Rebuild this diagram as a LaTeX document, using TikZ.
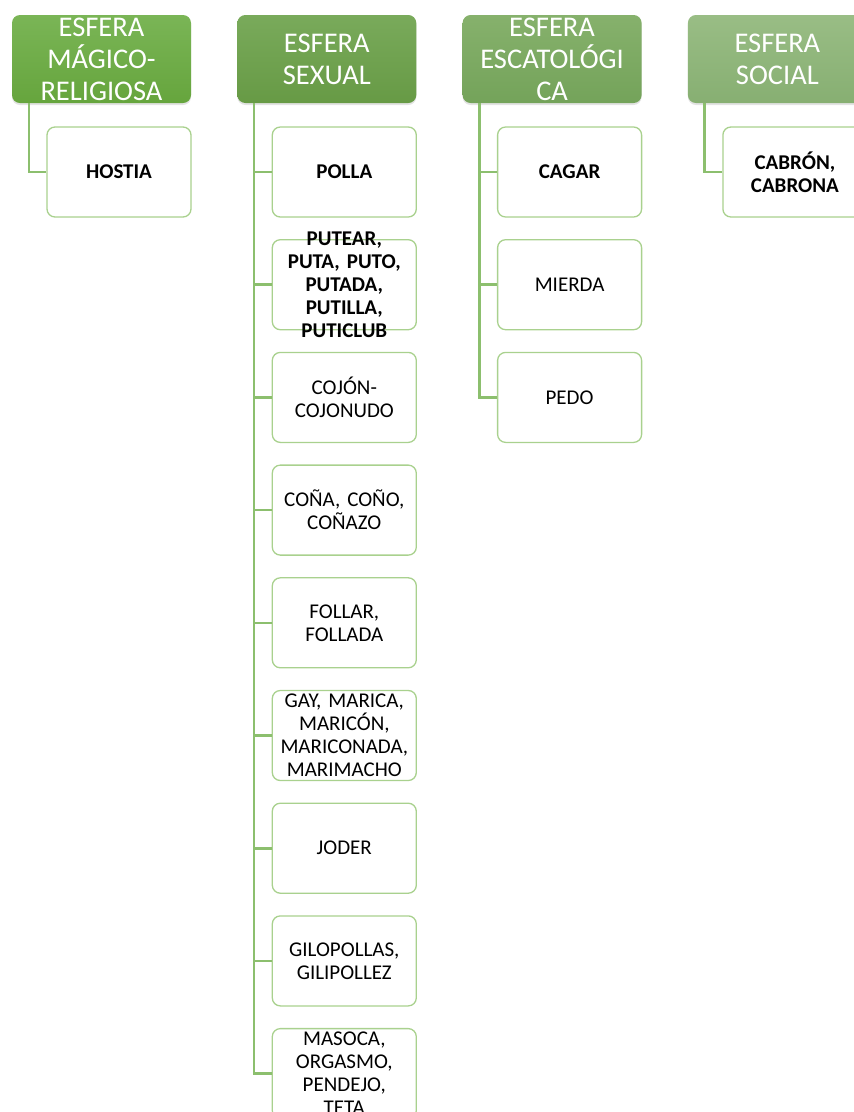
\documentclass[tikz,border=0pt]{standalone}
\usepackage{fontspec}
\setmainfont{Carlito}
\usetikzlibrary{shadows}
\definecolor{connc}{HTML}{8CBF6E}
\definecolor{boxc}{HTML}{A9D18E}
\tikzset{
  x=1pt, y=1pt,
  hdr/.style={draw=none, rounded corners=8pt, minimum width=179pt, minimum height=88pt,
    text width=178pt, align=center, text=white, inner sep=0pt,
    font=\fontsize{28.5}{32}\selectfont,
    drop shadow={shadow xshift=0pt, shadow yshift=-2pt, opacity=0.22}},
  kid/.style={draw=boxc, line width=1.3pt, rounded corners=8pt, fill=white,
    minimum width=144pt, minimum height=90pt, inner sep=0pt},
  kt/.style={text width=142pt, align=center, inner sep=0pt,
    font=\fontsize{21}{23}\selectfont},
  ktb/.style={kt, font=\fontsize{21}{23}\selectfont\bfseries},
  conn/.style={draw=connc, line width=2.6pt},
}
\begin{document}
\begin{tikzpicture}
\useasboundingbox (0,0) rectangle (854,-1112);
% headers
\node[hdr, top color={rgb,255:red,122;green,181;blue,86}, bottom color={rgb,255:red,102;green,165;blue,61}] (h1) at (101.5,-59) {ESFERA\\MÁGICO-\\RELIGIOSA};
\node[hdr, top color={rgb,255:red,121;green,170;blue,91}, bottom color={rgb,255:red,103;green,154;blue,69}] (h2) at (326.8,-59) {ESFERA\\SEXUAL};
\node[hdr, top color={rgb,255:red,134;green,177;blue,108}, bottom color={rgb,255:red,116;green,163;blue,90}] (h3) at (552.1,-59) {ESFERA\\ESCATOLÓGI\\CA};
\node[hdr, top color={rgb,255:red,153;green,189;blue,133}, bottom color={rgb,255:red,135;green,175;blue,114}] (h4) at (777.4,-59) {ESFERA\\SOCIAL};
\foreach \i in {1,...,4}{\coordinate (t\i) at ([xshift=17pt]h\i.south west);}
% column 1
\node[kid, label={[ktb]center:HOSTIA}] (a1) at (119,-172) {};
% column 2
\node[kid, label={[ktb]center:POLLA}] (b1) at (344.3,-172) {};
\node[kid, label={[ktb]center:{PUTEAR,\\PUTA, PUTO,\\PUTADA,\\PUTILLA,\\PUTICLUB}}] (b2) at (344.3,-284.7) {};
\node[kid, label={[kt]center:{COJÓN-\\COJONUDO}}] (b3) at (344.3,-397.4) {};
\node[kid, label={[kt]center:{COÑA, COÑO,\\COÑAZO}}] (b4) at (344.3,-510.1) {};
\node[kid, label={[kt]center:{FOLLAR,\\FOLLADA}}] (b5) at (344.3,-622.8) {};
\node[kid, label={[kt]center:{GAY, MARICA,\\MARICÓN,\\MARICONADA,\\MARIMACHO}}] (b6) at (344.3,-735.5) {};
\node[kid, label={[kt]center:JODER}] (b7) at (344.3,-848.2) {};
\node[kid, label={[kt]center:{GILOPOLLAS,\\GILIPOLLEZ}}] (b8) at (344.3,-960.9) {};
\node[kid, label={[kt]center:{MASOCA,\\ORGASMO,\\PENDEJO,\\TETA}}] (b9) at (344.3,-1073.6) {};
% column 3
\node[kid, label={[ktb]center:CAGAR}] (c1) at (569.6,-172) {};
\node[kid, label={[kt]center:MIERDA}] (c2) at (569.6,-284.7) {};
\node[kid, label={[kt]center:PEDO}] (c3) at (569.6,-397.4) {};
% column 4
\node[kid, label={[ktb]center:{CABRÓN,\\CABRONA}}] (d1) at (794.9,-172) {};
% connectors
\draw[conn] (t1) |- (a1.west);
\foreach \j in {1,...,9}{\draw[conn] (t2) |- (b\j.west);}
\foreach \j in {1,...,3}{\draw[conn] (t3) |- (c\j.west);}
\draw[conn] (t4) |- (d1.west);
\end{tikzpicture}
\end{document}
